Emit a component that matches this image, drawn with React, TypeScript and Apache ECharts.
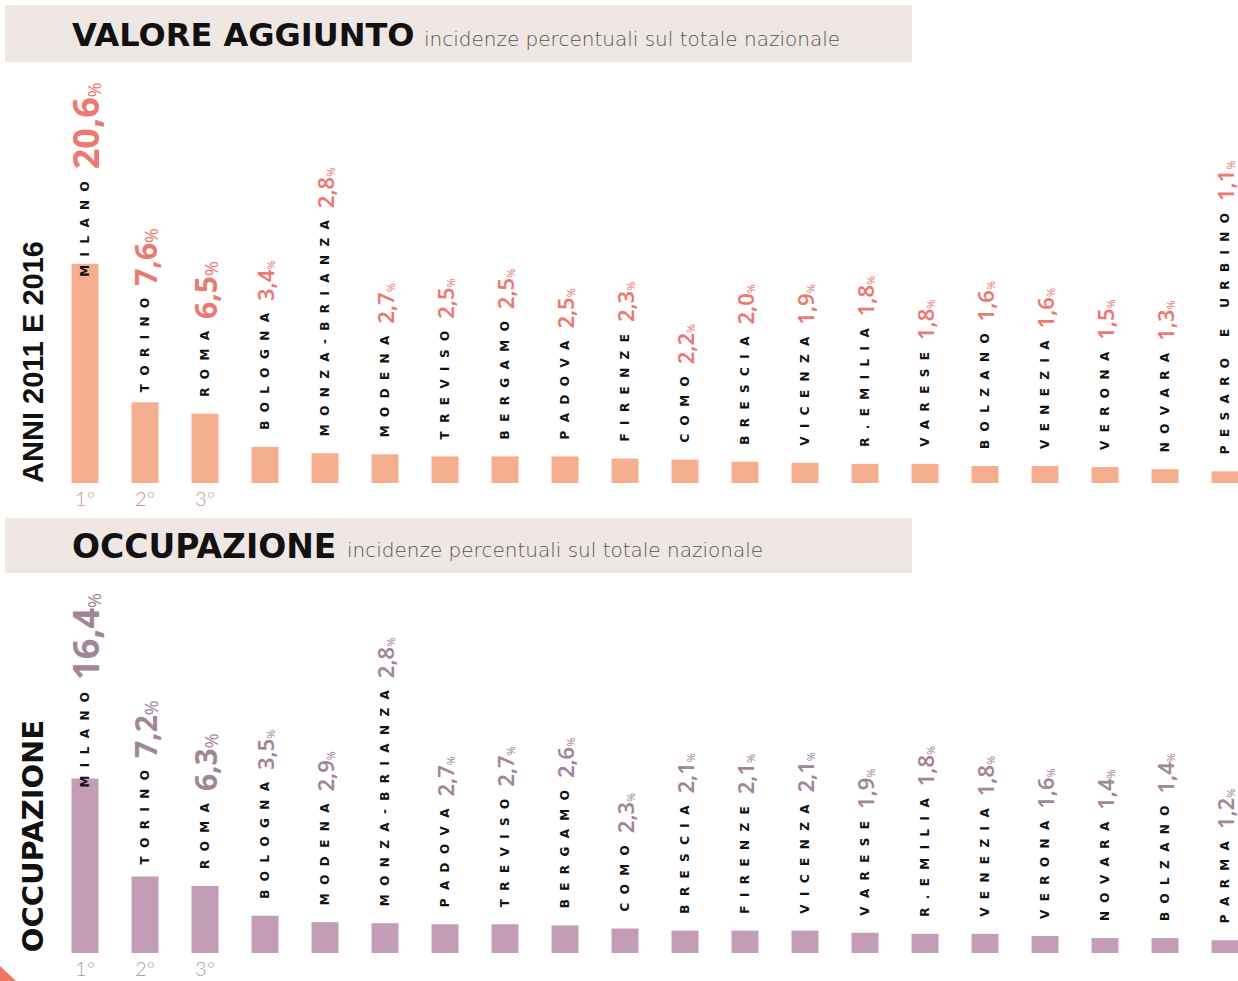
import React, { useEffect, useRef } from "react";
import * as echarts from "echarts";

const vaCities = ["MILANO", "TORINO", "ROMA", "BOLOGNA", "MONZA-BRIANZA", "MODENA", "TREVISO", "BERGAMO", "PADOVA", "FIRENZE", "COMO", "BRESCIA", "VICENZA", "R.EMILIA", "VARESE", "BOLZANO", "VENEZIA", "VERONA", "NOVARA", "PESARO E URBINO"];
const vaValues = [20.6, 7.6, 6.5, 3.4, 2.8, 2.7, 2.5, 2.5, 2.5, 2.3, 2.2, 2.0, 1.9, 1.8, 1.8, 1.6, 1.6, 1.5, 1.3, 1.1];

const occCities = ["MILANO", "TORINO", "ROMA", "BOLOGNA", "MODENA", "MONZA-BRIANZA", "PADOVA", "TREVISO", "BERGAMO", "COMO", "BRESCIA", "FIRENZE", "VICENZA", "VARESE", "R.EMILIA", "VENEZIA", "VERONA", "NOVARA", "BOLZANO", "PARMA"];
const occValues = [16.4, 7.2, 6.3, 3.5, 2.9, 2.8, 2.7, 2.7, 2.6, 2.3, 2.1, 2.1, 2.1, 1.9, 1.8, 1.8, 1.6, 1.4, 1.4, 1.2];

const rankLabels = ["1°", "2°", "3°"];
const titleVA = "VALORE AGGIUNTO";
const titleOcc = "OCCUPAZIONE";
const subtitle = "incidenze percentuali sul totale nazionale";
const sideVA = "ANNI 2011 E 2016";
const sideOcc = "OCCUPAZIONE";

const fmt = (v: number) => v.toFixed(1).replace(".", ",");
const spaced = (s: string) => s.split("").join("\u2002\u2009");

function makeSeries(values: number[], cities: string[], gridIndex: number, barColor: string, valColor: string, firstGap: number, secondGap: number) {
  return {
    type: "bar",
    xAxisIndex: gridIndex,
    yAxisIndex: gridIndex,
    barWidth: 27,
    itemStyle: { color: barColor },
    silent: true,
    data: values.map((v, i) => ({
      value: v,
      label: { distance: i === 0 ? firstGap : i === 1 ? secondGap : 17 },
    })),
    label: {
      show: true,
      position: "top",
      rotate: 90,
      align: "left",
      verticalAlign: "middle",
      formatter: (p: any) => {
        const i = p.dataIndex;
        const big = i === 0 ? "b1" : i < 3 ? "b2" : "s";
        const pct = i < 3 ? "pb" : "ps";
        return `{n|${spaced(cities[i])}}{g|}{${big}|${fmt(p.value)}}{${pct}|%}`;
      },
      rich: {
        n: { fontFamily: "DejaVu Sans", fontWeight: "bold", fontSize: 12, color: "#111", verticalAlign: "middle" },
        g: { width: 12, height: 2 },
        b1: { fontFamily: "Noto Sans", fontWeight: 700, fontSize: 36, color: valColor, verticalAlign: "middle" },
        b2: { fontFamily: "Noto Sans", fontWeight: 700, fontSize: 30, color: valColor, verticalAlign: "middle" },
        s: { fontFamily: "Noto Sans", fontWeight: 600, fontSize: 22, color: valColor, verticalAlign: "middle" },
        pb: { fontFamily: "Noto Sans", fontWeight: 400, fontSize: 18, color: valColor, verticalAlign: "bottom" },
        ps: { fontFamily: "Noto Sans", fontWeight: 400, fontSize: 11, color: valColor, verticalAlign: "bottom" },
      },
    },
  };
}

export default function App() {
  const ref = useRef<HTMLDivElement>(null);
  useEffect(() => {
    if (!ref.current) return;
    const chart = echarts.init(ref.current, null, { renderer: "svg" });
    const xAxisBase = (cities: string[], gridIndex: number, color: string) => ({
      type: "category",
      gridIndex,
      data: cities,
      axisLine: { show: false },
      axisTick: { show: false },
      axisLabel: {
        interval: 0,
        margin: 5,
        color,
        fontFamily: "Lato",
        fontWeight: 300,
        fontSize: 20,
        formatter: (_v: string, i: number) => (i < rankLabels.length ? rankLabels[i] : ""),
      },
    });
    const yAxisBase = (gridIndex: number) => ({
      type: "value",
      gridIndex,
      min: 0,
      max: 25,
      show: false,
      splitLine: { show: false },
    });
    chart.setOption({
      animation: false,
      backgroundColor: "#ffffff",
      grid: [
        { left: 55, width: 1200, top: 217, height: 266 },
        { left: 55, width: 1200, top: 687, height: 266 },
      ],
      xAxis: [xAxisBase(vaCities, 0, "#C9968C"), xAxisBase(occCities, 1, "#A9A2A6")],
      yAxis: [yAxisBase(0), yAxisBase(1)],
      series: [
        makeSeries(vaValues, vaCities, 0, "#F5AF8F", "#EA7A72", -13, 10),
        makeSeries(occValues, occCities, 1, "#C39CB5", "#A28597", -9, 12),
      ],
      graphic: [
        { type: "rect", silent: true, shape: { x: 5, y: 5, width: 907, height: 57 }, style: { fill: "#EEE7E3" } },
        { type: "rect", silent: true, shape: { x: 5, y: 518, width: 907, height: 55 }, style: { fill: "#EEE7E3" } },
        {
          type: "text", silent: true, x: 72, y: 35,
          style: { text: titleVA, font: "bold 32px 'DejaVu Sans'", fill: "#111", textAlign: "left", textVerticalAlign: "middle" },
        },
        {
          type: "text", silent: true, x: 424, y: 39,
          style: { text: subtitle, font: "200 20px 'DejaVu Sans'", fill: "#555", textAlign: "left", textVerticalAlign: "middle" },
        },
        {
          type: "text", silent: true, x: 72, y: 546,
          style: { text: titleOcc, font: "bold 33px 'DejaVu Sans'", fill: "#111", textAlign: "left", textVerticalAlign: "middle" },
        },
        {
          type: "text", silent: true, x: 347, y: 550,
          style: { text: subtitle, font: "200 20px 'DejaVu Sans'", fill: "#555", textAlign: "left", textVerticalAlign: "middle" },
        },
        {
          type: "text", silent: true, x: 33, y: 362, rotation: Math.PI / 2,
          style: { text: sideVA, font: "bold 29px 'Liberation Sans'", fill: "#111", textAlign: "center", textVerticalAlign: "middle" },
        },
        {
          type: "text", silent: true, x: 33, y: 836, rotation: Math.PI / 2,
          style: { text: sideOcc, font: "bold 29px 'DejaVu Sans'", fill: "#111", textAlign: "center", textVerticalAlign: "middle" },
        },
        {
          type: "polygon", silent: true,
          shape: { points: [[0, 966], [0, 981], [16, 981]] },
          style: { fill: "#F07560" },
        },
      ],
    });
    return () => chart.dispose();
  }, []);
  return (
    <div
      ref={ref}
      style={{ position: "fixed", left: 0, top: 0, width: 1270, height: 981 }}
    />
  );
}
